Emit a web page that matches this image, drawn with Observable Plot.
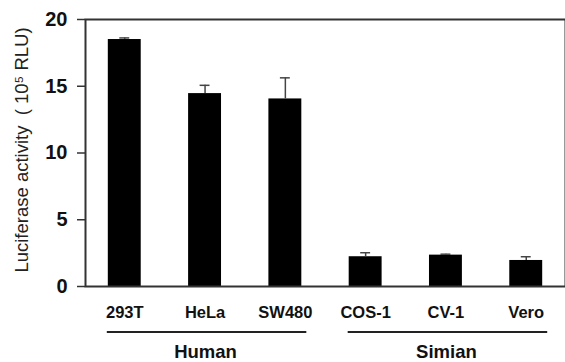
<!DOCTYPE html>
<html><head><meta charset="utf-8">
<script src="https://cdn.jsdelivr.net/npm/d3@7"></script>
<script src="https://cdn.jsdelivr.net/npm/@observablehq/plot@0.6"></script>
<style>body{margin:0;background:#fff}</style>
</head><body><div id="chart"></div>
<script>
const cells = ["293T", "HeLa", "SW480", "COS-1", "CV-1", "Vero"];
const activity = [18.5, 14.45, 14.05, 2.23, 2.35, 1.95];
const errors = [0.12, 0.62, 1.58, 0.3, 0.07, 0.28];
const groupNames = ["Human", "Simian"];
const groupFirst = ["293T", "COS-1"];
const groupLast = ["SW480", "Vero"];
const yTicks = [0, 5, 10, 15, 20];
const yLabel = "Luciferase activity  ( 10\u2075 RLU)";

const data = cells.map((c, i) => ({cell: c, value: activity[i], top: activity[i] + errors[i]}));
const groups = groupNames.map((g, i) => ({name: g, first: groupFirst[i], last: groupLast[i]}));

const font = "'Liberation Sans', Arial, Helvetica, sans-serif";

function groupMark(index, scales, values, dims) {
  const x = scales.x;
  const bw = typeof x.bandwidth === "function" ? x.bandwidth() : x.bandwidth;
  const base = dims.height - dims.marginBottom;
  const g = d3.create("svg:g");
  for (const grp of groups) {
    const x1 = x(grp.first), x2 = x(grp.last) + bw;
    g.append("line")
      .attr("x1", x1 - 1).attr("x2", x2 + 5)
      .attr("y1", base + 46).attr("y2", base + 46)
      .attr("stroke", "#222").attr("stroke-width", 2);
    g.append("text")
      .attr("x", (x1 + x2) / 2 + 1).attr("y", base + 72)
      .attr("text-anchor", "middle")
      .attr("font-size", 18.5).attr("font-weight", "bold")
      .attr("fill", "#111")
      .text(grp.name);
  }
  return g.node();
}

const chart = Plot.plot({
  width: 565,
  height: 362,
  marginLeft: 85,
  marginRight: 0,
  marginTop: 19,
  marginBottom: 76,
  style: {fontFamily: font, background: "#fff", color: "#111"},
  x: {domain: cells, paddingInner: 0.59, paddingOuter: 0.284, round: false, axis: null},
  y: {domain: [0, 20], axis: null},
  marks: [
    Plot.barY(data, {x: "cell", y: "value", fill: "#000"}),
    Plot.ruleX(data, {x: "cell", y1: "value", y2: "top", stroke: "#444", strokeWidth: 1.5}),
    Plot.tickY(data, {x: "cell", y: "top", stroke: "#444", strokeWidth: 1.5, insetLeft: 11.5, insetRight: 11.5}),
    Plot.frame({stroke: "#333", strokeWidth: 2}),
    Plot.axisY({ticks: yTicks, tickSize: 8, tickPadding: 10, fontSize: 20, fontWeight: "bold", stroke: "#333", strokeWidth: 1.5, label: null}),
    Plot.axisX({tickSize: 0, tickPadding: 20, fontSize: 16.5, fontWeight: "bold", label: null}),
    Plot.text([yLabel], {frameAnchor: "left", rotate: -90, dx: -63, dy: -3, fontSize: 18.5, fill: "#222", textAnchor: "middle"}),
    groupMark
  ]
});
document.getElementById("chart").append(chart);
</script>
</body></html>
